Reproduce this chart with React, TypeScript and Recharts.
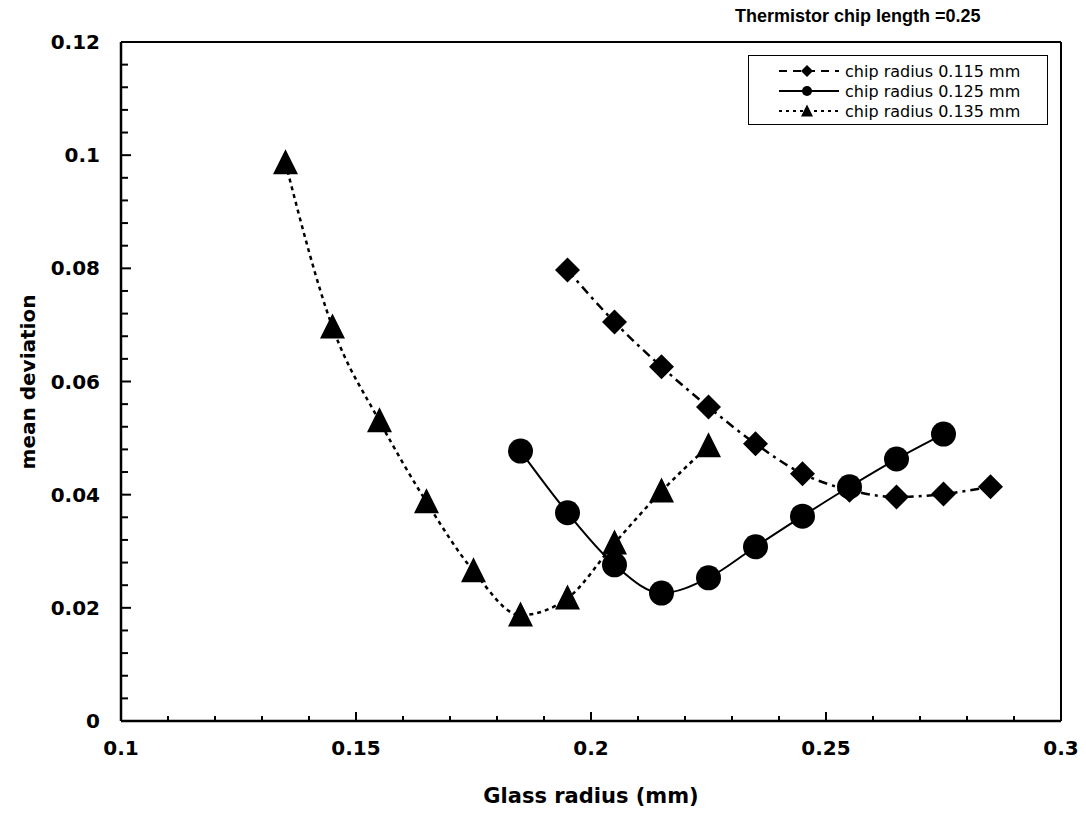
import { LineChart, Line, XAxis, YAxis, ReferenceLine } from "recharts";

// glass radius (mm) for each series
const xs115 = [0.195, 0.205, 0.215, 0.225, 0.235, 0.245, 0.255, 0.265, 0.275, 0.285];
const ys115 = [0.0797, 0.0705, 0.0626, 0.0555, 0.049, 0.0437, 0.0408, 0.0396, 0.0401, 0.0414];

const xs125 = [0.185, 0.195, 0.205, 0.215, 0.225, 0.235, 0.245, 0.255, 0.265, 0.275];
const ys125 = [0.0477, 0.0368, 0.0276, 0.0226, 0.0253, 0.0308, 0.0362, 0.0414, 0.0463, 0.0507];

const xs135 = [0.135, 0.145, 0.155, 0.165, 0.175, 0.185, 0.195, 0.205, 0.215, 0.225];
const ys135 = [0.0986, 0.0696, 0.053, 0.0387, 0.0265, 0.0187, 0.0217, 0.0314, 0.0406, 0.0486];

const xTicks = [
  0.1, 0.11, 0.12, 0.13, 0.14, 0.15, 0.16, 0.17, 0.18, 0.19, 0.2,
  0.21, 0.22, 0.23, 0.24, 0.25, 0.26, 0.27, 0.28, 0.29, 0.3,
];
const xLabels = ["0.1", "0.15", "0.2", "0.25", "0.3"];

const yTicks = [
  0, 0.004, 0.008, 0.012, 0.016, 0.02, 0.024, 0.028, 0.032, 0.036, 0.04,
  0.044, 0.048, 0.052, 0.056, 0.06, 0.064, 0.068, 0.072, 0.076, 0.08,
  0.084, 0.088, 0.092, 0.096, 0.1, 0.104, 0.108, 0.112, 0.116, 0.12,
];
const yLabels = ["0", "0.02", "0.04", "0.06", "0.08", "0.1", "0.12"];

const legendNames = ["chip radius 0.115 mm", "chip radius 0.125 mm", "chip radius 0.135 mm"];

const toRows = (xs: number[], ys: number[]) => xs.map((x, i) => ({ x, y: ys[i] }));
const data115 = toRows(xs115, ys115);
const data125 = toRows(xs125, ys125);
const data135 = toRows(xs135, ys135);

const tickFont = { fontFamily: "'DejaVu Sans', sans-serif", fontWeight: 700, fontSize: 20 };

function fmt(v: number) {
  return String(Math.round(v * 1000) / 1000);
}

function YTick(props: any) {
  const { x, y, payload } = props;
  const label = fmt(payload.value);
  const major = yLabels.includes(label);
  return (
    <g>
      <line x1={x} y1={y} x2={x + (major ? 10 : 7)} y2={y} stroke="#000" strokeWidth={2} />
      {major && (
        <text x={x - 21} y={y} dy={7} textAnchor="end" fill="#000" style={tickFont}>
          {label}
        </text>
      )}
    </g>
  );
}

function XTick(props: any) {
  const { x, y, payload } = props;
  const label = fmt(payload.value);
  const major = xLabels.includes(label);
  return (
    <g>
      <line x1={x} y1={y} x2={x} y2={y - (major ? 9 : 5)} stroke="#000" strokeWidth={2} />
      {major && (
        <text x={x} y={y} dy={34} textAnchor="middle" fill="#000" style={tickFont}>
          {label}
        </text>
      )}
    </g>
  );
}

function Diamond({ cx, cy, r }: { cx: number; cy: number; r: number }) {
  return <polygon points={`${cx},${cy - r} ${cx + r},${cy} ${cx},${cy + r} ${cx - r},${cy}`} fill="#000" />;
}
function Triangle({ cx, cy, r }: { cx: number; cy: number; r: number }) {
  const h = r * 1.0;
  return <polygon points={`${cx},${cy - h * 1.1} ${cx + r},${cy + h * 0.9} ${cx - r},${cy + h * 0.9}`} fill="#000" />;
}
function Circle({ cx, cy, r }: { cx: number; cy: number; r: number }) {
  return <circle cx={cx} cy={cy} r={r} fill="#000" />;
}

const markers = [Diamond, Circle, Triangle];
const dashes = ["9 5 3 5", undefined, "4 4"];
const widths = [2.5, 2, 2.5];

function LegendBox() {
  return (
    <div
      style={{
        position: "absolute",
        left: 748,
        top: 55,
        width: 300,
        height: 70,
        border: "1px solid #000",
        boxSizing: "border-box",
        paddingTop: 5,
      }}
    >
      {legendNames.map((name, i) => {
        const M = markers[i];
        return (
          <div key={name} style={{ display: "flex", alignItems: "center", height: 20 }}>
            <svg width={96} height={20} style={{ display: "block" }}>
              <line x1={30} y1={10} x2={90} y2={10} stroke="#000" strokeWidth={2} strokeDasharray={i === 0 ? "8 6" : i === 2 ? "3 4" : undefined} />
              <M cx={58} cy={10} r={i === 1 ? 5 : 6} />
            </svg>
            <span style={{ fontFamily: "'DejaVu Sans', sans-serif", fontSize: 16, color: "#000", whiteSpace: "nowrap" }}>
              {name}
            </span>
          </div>
        );
      })}
    </div>
  );
}

export default function App() {
  return (
    <div style={{ position: "absolute", left: 0, top: 0, width: 1086, height: 821, background: "#fff" }}>
      <div
        style={{
          position: "absolute",
          left: 735,
          top: 6,
          fontFamily: "'Liberation Sans', Arial, sans-serif",
          fontWeight: 700,
          fontSize: 18,
          whiteSpace: "nowrap",
        }}
      >
        Thermistor chip length =0.25
      </div>
      <div
        style={{
          position: "absolute",
          left: 28,
          top: 382,
          transform: "translate(-50%, -50%) rotate(-90deg)",
          fontFamily: "'DejaVu Sans', sans-serif",
          fontWeight: 700,
          fontSize: 20,
          whiteSpace: "nowrap",
        }}
      >
        mean deviation
      </div>
      <div
        style={{
          position: "absolute",
          left: 591,
          top: 796,
          transform: "translate(-50%, -50%)",
          fontFamily: "'DejaVu Sans', sans-serif",
          fontWeight: 700,
          fontSize: 21,
          whiteSpace: "nowrap",
        }}
      >
        Glass radius (mm)
      </div>
      <LineChart width={1086} height={821} margin={{ top: 42, right: 25, bottom: 70, left: 61 }}>
        <XAxis
          dataKey="x"
          type="number"
          domain={[0.1, 0.3]}
          ticks={xTicks}
          allowDuplicatedCategory={false}
          tick={<XTick />}
          tickLine={false}
          tickSize={0}
          tickMargin={0}
          height={30}
          axisLine={{ stroke: "#000", strokeWidth: 2.5 }}
          interval={0}
        />
        <YAxis
          type="number"
          domain={[0, 0.12]}
          ticks={yTicks}
          tick={<YTick />}
          tickLine={false}
          tickSize={0}
          tickMargin={0}
          width={60}
          axisLine={{ stroke: "#000", strokeWidth: 2.5 }}
          interval={0}
        />
        <ReferenceLine y={0.12} stroke="#000" strokeWidth={2} />
        <ReferenceLine x={0.3} stroke="#000" strokeWidth={2} />
        {[data115, data125, data135].map((d, i) => {
          const M = markers[i];
          const r = i === 1 ? 12.5 : 12.5;
          return (
            <Line
              key={i}
              data={d}
              dataKey="y"
              type="monotone"
              stroke="#000"
              strokeWidth={widths[i]}
              strokeDasharray={dashes[i]}
              isAnimationActive={false}
              dot={(p: any) => <M key={p.index} cx={p.cx} cy={p.cy} r={r} />}
              activeDot={false}
              legendType="none"
            />
          );
        })}
      </LineChart>
      <LegendBox />
    </div>
  );
}
